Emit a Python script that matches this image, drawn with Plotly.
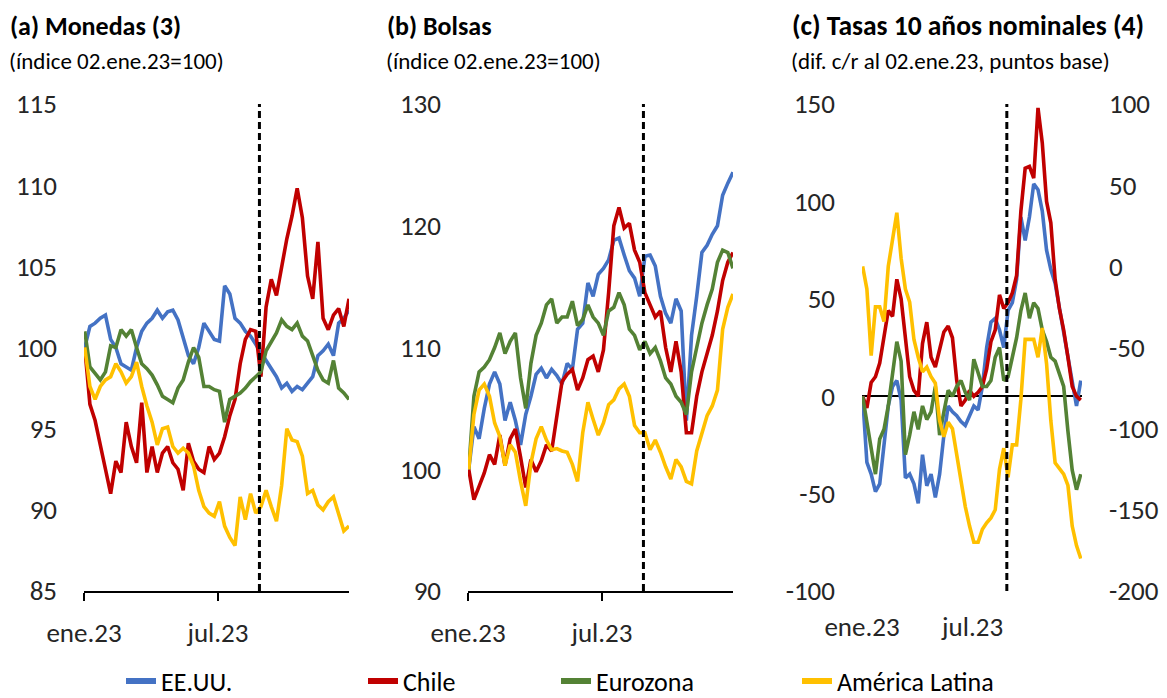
import pandas as pd
import plotly.graph_objects as go

# ---------------- data (weekly readings from the reference) ----------------
dates = pd.date_range("2023-01-02", periods=52, freq="7D")
cutoff_date = "2023-08-26"

series_names = ["EE.UU.", "Chile", "Eurozona", "América Latina"]
series_colors = ["#4472C4", "#C00000", "#548235", "#FFC000"]

# (a) Monedas
mon_eeuu = [100.0, 101.3, 101.5, 101.8, 102.0, 100.5, 100.0, 99.0, 98.8, 98.6,
            100.0, 101.0, 101.5, 101.8, 102.3, 101.8, 102.2, 102.3, 101.7, 100.5,
            99.5, 99.0, 100.0, 101.5, 101.0, 100.5, 100.4, 103.8, 103.3, 101.8,
            101.5, 101.0, 100.7, 100.2, 99.7, 99.2, 98.7, 98.2, 97.5, 97.8,
            97.3, 97.6, 97.4, 97.8, 98.2, 99.5, 99.8, 100.2, 99.5, 101.5,
            101.8, 102.3]
mon_chile = [100.0, 96.5, 95.5, 93.9, 92.5, 91.0, 93.0, 92.3, 95.4, 93.9,
             92.9, 96.6, 92.3, 93.9, 92.3, 93.5, 93.9, 92.9, 92.5, 91.2,
             94.1, 93.0, 92.5, 92.3, 93.9, 93.1, 93.5, 94.5, 95.8, 96.8,
             99.0, 100.5, 101.1, 101.0, 98.2, 102.5, 104.2, 103.2, 105.0, 106.7,
             108.1, 109.8, 108.0, 104.4, 103.0, 106.5, 101.8, 101.1, 102.0, 102.4,
             101.3, 103.0]
mon_euro = [101.0, 98.8, 98.4, 98.0, 98.5, 100.1, 100.0, 101.1, 100.7, 101.1,
            100.0, 99.0, 98.7, 98.3, 97.7, 97.0, 96.8, 96.6, 97.5, 98.0,
            99.1, 100.0, 99.4, 97.6, 97.6, 97.4, 97.3, 95.4, 96.8, 97.0,
            97.2, 97.5, 97.9, 98.2, 98.5, 99.8, 100.4, 100.9, 101.7, 101.3,
            101.1, 101.5, 100.7, 100.4, 99.5, 98.6, 98.0, 97.8, 99.2, 97.5,
            97.2, 96.8]
mon_latam = [100.0, 97.6, 96.8, 97.6, 98.0, 98.2, 99.0, 98.5, 97.8, 98.2,
             99.1, 97.6, 96.4, 95.4, 94.0, 95.0, 95.1, 93.9, 93.5, 93.8,
             93.5, 92.7, 91.2, 90.2, 89.8, 89.6, 90.5, 89.0, 88.3, 87.8,
             90.8, 89.4, 91.0, 89.8, 90.2, 91.2, 90.2, 89.3, 91.5, 95.0,
             94.3, 94.2, 93.3, 91.0, 91.2, 90.3, 90.0, 90.5, 90.8, 89.8,
             88.7, 89.0]

# (b) Bolsas
bol_eeuu = [100.0, 103.5, 102.5, 105.0, 107.0, 108.0, 107.0, 104.0, 105.5, 104.0,
            102.0, 104.5, 106.0, 107.8, 108.3, 107.5, 108.2, 107.7, 107.0, 108.7,
            108.2, 111.5, 112.0, 115.3, 114.2, 116.0, 116.5, 117.2, 118.8, 119.0,
            117.6, 116.3, 115.7, 114.2, 117.5, 117.6, 116.7, 114.2, 112.8, 112.0,
            114.0, 113.0, 104.0, 111.0, 114.2, 117.8, 118.4, 119.3, 120.0, 122.5,
            123.5, 124.4]
bol_chile = [100.0, 97.5, 98.6, 99.7, 101.2, 100.4, 102.8, 100.3, 102.5, 103.3,
             101.0, 98.5, 100.8, 99.8, 100.7, 102.0, 101.5, 104.6, 107.2, 107.8,
             108.2, 106.5, 107.5, 109.0, 109.3, 108.0, 109.8, 114.5, 120.0, 121.5,
             119.8, 120.2, 118.0, 117.0, 114.5, 113.5, 112.5, 113.0, 110.0, 108.0,
             110.5, 108.0, 103.0, 103.0, 106.0, 108.0, 109.5, 111.0, 113.0, 115.5,
             117.0, 117.8]
bol_euro = [100.0, 106.0, 108.0, 108.4, 109.0, 110.0, 111.2, 109.5, 110.5, 111.2,
            107.5, 105.0, 108.7, 111.0, 112.0, 113.5, 114.0, 112.0, 112.5, 112.5,
            113.8, 111.8, 112.3, 113.5, 112.5, 112.0, 111.0, 113.0, 113.3, 114.5,
            113.5, 111.5, 111.0, 109.8, 110.5, 109.5, 110.0, 108.9, 107.5, 107.0,
            106.0, 105.5, 104.5, 108.0, 110.0, 112.0, 113.5, 114.8, 117.0, 118.0,
            117.8, 116.5]
bol_latam = [100.0, 104.5, 106.5, 107.0, 106.0, 103.8, 102.7, 100.3, 102.0, 101.4,
             99.0, 97.0, 100.5, 102.5, 103.5, 102.4, 101.6, 101.7, 101.5, 101.4,
             100.4, 99.0, 103.0, 105.5, 104.1, 102.8, 103.8, 105.3, 105.7, 106.6,
             107.0, 106.0, 103.6, 103.0, 103.0, 101.6, 102.4, 101.4, 100.2, 99.2,
             100.8, 100.2, 99.0, 98.8, 101.5, 103.0, 104.4, 105.2, 106.5, 111.5,
             113.3, 114.4]

# (c) Tasas 10 años (pb); América Latina on the right axis
tas_eeuu = [0, -34, -40, -49, -45, -25, -5, 5, 8, -2,
            -42, -40, -45, -55, -30, -46, -40, -52, -40, -20,
            -5, -8, -10, -13, -15, -10, -5, -7, 5, 25,
            38, 40, 34, 25, 44, 48, 60, 92, 80, 92,
            109, 106, 95, 75, 65, 58, 45, 34, 20, 8,
            -5, 8]
tas_chile = [0, -6, 7, 10, 17, 30, 44, 41, 60, 50,
             30, 10, 3, 0, 27, 38, 20, 15, 24, 33,
             36, 30, 8, -5, -2, 3, 0, 2, 5, 14,
             28, 34, 52, 45, 48, 53, 62, 95, 117, 118,
             112, 148, 130, 100, 89, 60, 45, 34, 20, 5,
             0, -2]
tas_euro = [0, -13, -26, -40, -22, -17, -5, 10, 28, 18,
            -30, -20, -8, -17, -5, -12, -8, 5, -20, -8,
            3, 0, 5, 8, 2, -2, 19, 12, 5, 5,
            8, 20, 25, 8, 10, 20, 30, 44, 53, 40,
            48, 45, 34, 28, 20, 18, 12, 5, -18, -38,
            -48, -40]
tas_latam = [0, -14, -55, -25, -25, -34, 0, 18, 33, 5,
             -14, -22, -45, -56, -65, -62, -68, -72, -95, -105,
             -96, -100, -116, -131, -148, -160, -170, -170, -162, -158,
             -155, -150, -125, -112, -130, -110, -110, -82, -45, -45,
             -45, -56, -38, -60, -95, -121, -125, -128, -135, -160,
             -172, -180]

# axis ticks
x_tickvals = ["2023-01-01", "2023-07-01"]
x_ticktext = ["ene.23", "jul.23"]
ya_ticks = [85, 90, 95, 100, 105, 110, 115]
yb_ticks = [90, 100, 110, 120, 130]
yc_ticks = [-100, -50, 0, 50, 100, 150]
yc2_ticks = [-200, -150, -100, -50, 0, 50, 100]

# ---------------- figure ----------------
OFF = 8                      # default page margin of the html body
W, H = 1167 - OFF, 698 - OFF
FONT = "Carlito, Calibri, Lato, 'Open Sans', sans-serif"
TICKC = "#262626"
TICK_SIZE = 27


def px_x(p):
    return (p - OFF) / W


def px_y(p):
    return 1 - (p - OFF) / H


fig = go.Figure()

panels = [
    ("x", "y", [mon_eeuu, mon_chile, mon_euro, mon_latam], [None] * 4),
    ("x2", "y2", [bol_eeuu, bol_chile, bol_euro, bol_latam], [None] * 4),
    ("x3", "y3", [tas_eeuu, tas_chile, tas_euro, tas_latam], [None, None, None, "y4"]),
]
for xa, ya, data, overrides in panels:
    for vals, color, ov in zip(data, series_colors, overrides):
        fig.add_trace(go.Scatter(
            x=dates, y=vals, mode="lines", xaxis=xa, yaxis=ov or ya,
            line=dict(color=color, width=3.6), showlegend=False,
            hoverinfo="skip"))

# legend entries (one legend per entry to reproduce the spacing)
legend_x = [121, 363, 556, 797]
for i, (name, color) in enumerate(zip(series_names, series_colors)):
    lg = "legend" if i == 0 else f"legend{i + 1}"
    fig.add_trace(go.Scatter(
        x=[None], y=[None], mode="lines", name=name,
        line=dict(color=color, width=6), showlegend=True, legend=lg,
        xaxis="x", yaxis="y"))

dom_y = [px_y(591), px_y(104)]
xdoms = [[px_x(84), px_x(349)], [px_x(468), px_x(733)], [px_x(862), px_x(1082)]]

common_x = dict(type="date", tickvals=x_tickvals, ticktext=x_ticktext,
                showgrid=False, zeroline=False, automargin=False,
                tickfont=dict(family=FONT, size=TICK_SIZE, color=TICKC),
                ticklabelstandoff=9)

layout = dict(
    width=W, height=H,
    margin=dict(l=0, r=0, t=0, b=0, pad=0, autoexpand=False),
    plot_bgcolor="white", paper_bgcolor="white",
    font=dict(family=FONT, color="#000"),
)

for i, xd in enumerate(xdoms):
    key = "xaxis" if i == 0 else f"xaxis{i + 1}"
    yk = "y" if i == 0 else f"y{i + 1}"
    ax = dict(common_x, domain=xd, anchor=yk)
    if i < 2:
        ax.update(range=["2023-01-01", "2023-12-25"], showline=True, linecolor="#000",
                  linewidth=1.5, ticks="outside", ticklen=8, tickwidth=1.5, tickcolor="#000")
    else:
        ax.update(range=["2023-01-01", "2023-12-27"], showline=False, ticks="",
                  ticklabelstandoff=17)
    layout[key] = ax

common_y = dict(showgrid=False, showline=False, ticks="", automargin=False,
                tickfont=dict(family=FONT, size=TICK_SIZE, color=TICKC),
                ticklabelstandoff=26, domain=dom_y)

layout["yaxis"] = dict(common_y, anchor="x", range=[85, 115], tickvals=ya_ticks,
                       ticktext=[str(v) for v in ya_ticks], zeroline=False)
layout["yaxis2"] = dict(common_y, anchor="x2", range=[90, 130], tickvals=yb_ticks,
                        ticktext=[str(v) for v in yb_ticks], zeroline=False)
layout["yaxis3"] = dict(common_y, anchor="x3", range=[-100, 150], tickvals=yc_ticks,
                        ticktext=[str(v) for v in yc_ticks], zeroline=True,
                        zerolinecolor="#000", zerolinewidth=1.5)
layout["yaxis4"] = dict(common_y, anchor="x3", overlaying="y3", side="right",
                        range=[-200, 100], tickvals=yc2_ticks,
                        ticktext=[str(v) for v in yc2_ticks], zeroline=False)

for i, lx in enumerate(legend_x):
    lg = "legend" if i == 0 else f"legend{i + 1}"
    layout[lg] = dict(x=px_x(lx), xanchor="left", y=px_y(681), yanchor="middle",
                      orientation="h", bgcolor="rgba(0,0,0,0)", borderwidth=0,
                      font=dict(family=FONT, size=26, color="#000"))

fig.update_layout(**layout)

# cutoff dashed lines
for xr in ["x", "x2", "x3"]:
    fig.add_shape(type="line", xref=xr, yref="paper", x0=cutoff_date, x1=cutoff_date,
                  y0=dom_y[0], y1=dom_y[1],
                  line=dict(color="#000", width=3, dash="7px,4px"))

titles = [
    (8, "(a) Monedas (3)", "(índice 02.ene.23=100)", 26),
    (385, "(b) Bolsas", "(índice 02.ene.23=100)", 26),
    (790, "(c) Tasas 10 años nominales (4)", "(dif. c/r al 02.ene.23, puntos base)", 27.5),
]
for x0, t, s, fs in titles:
    fig.add_annotation(xref="paper", yref="paper", x=px_x(x0), y=px_y(26),
                       xanchor="left", yanchor="middle", showarrow=False,
                       text=f"<b>{t}</b>", font=dict(family=FONT, size=fs, color="#000"))
    fig.add_annotation(xref="paper", yref="paper", x=px_x(x0 - 1), y=px_y(61),
                       xanchor="left", yanchor="middle", showarrow=False,
                       text=s, font=dict(family=FONT, size=23, color="#000"))

fig.write_html("out.html")
